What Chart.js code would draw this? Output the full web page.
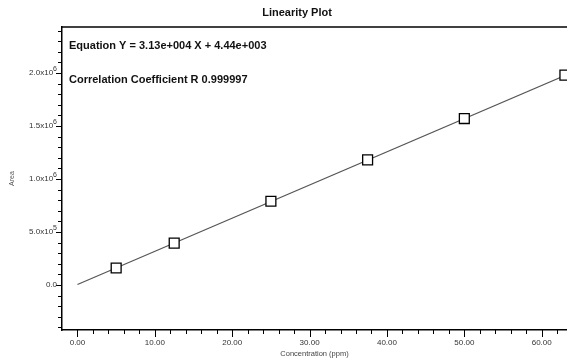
<!DOCTYPE html>
<html>
<head>
<meta charset="utf-8">
<script src="https://cdn.jsdelivr.net/npm/chart.js@4.4.1/dist/chart.umd.min.js"></script>
<style>
  html, body { margin: 0; padding: 0; background: #fff; }
</style>
</head>
<body>
<canvas id="linPlot" width="567" height="358"></canvas>
<script>
// calibration standards
const concentration = [5, 12.5, 25, 37.5, 50, 63];
const area = [1.6e5, 3.95e5, 7.9e5, 1.18e6, 1.57e6, 1.98e6];

// regression result
const slope = 3.13e4;
const intercept = 4.44e3;
const rValue = '0.999997';

// axis ticks
const xTickValues = [0, 10, 20, 30, 40, 50, 60];
const xTickLabels = ['0.00', '10.00', '20.00', '30.00', '40.00', '50.00', '60.00'];
const yTickValues = [0, 5e5, 1e6, 1.5e6, 2e6];
const yTickLabels = ['0.0', '5.0x10', '1.0x10', '1.5x10', '2.0x10'];
const yTickPowers = ['', '5', '6', '6', '6'];

const FONT = "'Liberation Sans', Arial, sans-serif";

const fitLine = [
  { x: 0, y: intercept },
  { x: 64, y: slope * 64 + intercept }
];
const points = concentration.map((c, i) => ({ x: c, y: area[i] }));

// frame top, minor/major tick marks, y labels with exponents, title and equation text
const decorations = {
  id: 'decorations',
  afterDraw(chart) {
    const { ctx, chartArea: a, scales: { x, y } } = chart;
    ctx.save();
    ctx.strokeStyle = '#000';
    ctx.lineWidth = 1.5;
    ctx.beginPath();
    ctx.moveTo(a.left, a.top);
    ctx.lineTo(a.right, a.top);
    ctx.stroke();

    ctx.lineWidth = 1;
    ctx.beginPath();
    for (let v = 0; v <= x.max; v += 2) {
      const px = Math.round(x.getPixelForValue(v)) + 0.5;
      const len = v % 10 === 0 ? 7 : 4;
      ctx.moveTo(px, a.bottom);
      ctx.lineTo(px, a.bottom + len);
    }
    for (let v = -4e5; v <= y.max; v += 1e5) {
      const py = Math.round(y.getPixelForValue(v)) + 0.5;
      const len = Math.abs(v % 5e5) < 1 ? 6 : 4;
      ctx.moveTo(a.left, py);
      ctx.lineTo(a.left - len, py);
    }
    ctx.stroke();

    ctx.fillStyle = '#333';
    ctx.textBaseline = 'middle';
    ctx.textAlign = 'right';
    yTickValues.forEach((v, i) => {
      const py = y.getPixelForValue(v);
      let right = a.left - 5;
      if (yTickPowers[i]) {
        ctx.font = '7px ' + FONT;
        ctx.fillText(yTickPowers[i], right, py - 4);
        right -= ctx.measureText(yTickPowers[i]).width;
      }
      ctx.font = '8px ' + FONT;
      ctx.fillText(yTickLabels[i], right, py);
    });

    ctx.fillStyle = '#111';
    ctx.font = 'bold 11px ' + FONT;
    ctx.textAlign = 'center';
    ctx.fillText('Linearity Plot', 297, 13);
    ctx.textAlign = 'left';
    ctx.fillText('Equation Y = 3.13e+004 X + 4.44e+003', 69, 46);
    ctx.fillText('Correlation Coefficient R ' + rValue, 69, 80);
    ctx.restore();
  }
};

new Chart(document.getElementById('linPlot'), {
  type: 'scatter',
  data: {
    datasets: [
      {
        label: 'Fit',
        data: fitLine,
        showLine: true,
        borderColor: '#555',
        borderWidth: 1.2,
        pointRadius: 0,
        order: 2
      },
      {
        label: 'Standards',
        data: points,
        pointStyle: 'rect',
        pointRadius: 7,
        pointBorderWidth: 1.3,
        pointBorderColor: '#000',
        pointBackgroundColor: '#fff',
        order: 1
      }
    ]
  },
  options: {
    responsive: false,
    animation: false,
    devicePixelRatio: 1,
    layout: { autoPadding: false, padding: { top: 27, right: 0, bottom: 0, left: 0 } },
    plugins: {
      legend: { display: false },
      tooltip: { enabled: false }
    },
    scales: {
      x: {
        type: 'linear',
        min: -2,
        max: 63.27,
        afterFit(scale) {
          scale.height = 28;
          scale.paddingLeft = 0;
          scale.paddingRight = 0;
        },
        afterBuildTicks(scale) { scale.ticks = xTickValues.map(v => ({ value: v })); },
        grid: { display: false, drawTicks: false },
        border: { display: true, color: '#000', width: 1.5 },
        ticks: {
          padding: 8,
          color: '#333',
          font: { family: FONT, size: 8 },
          maxRotation: 0,
          autoSkip: false,
          callback: (v, i) => xTickLabels[i]
        },
        title: {
          display: true,
          text: 'Concentration (ppm)',
          color: '#444',
          font: { family: FONT, size: 7.5 },
          padding: 0
        }
      },
      y: {
        type: 'linear',
        min: -4.25e5,
        max: 2.434e6,
        afterFit(scale) {
          scale.width = 62;
          scale.paddingTop = 0;
          scale.paddingBottom = 0;
        },
        afterBuildTicks(scale) { scale.ticks = yTickValues.map(v => ({ value: v })); },
        grid: { display: false, drawTicks: false },
        border: { display: true, color: '#000', width: 1.5 },
        ticks: { display: false },
        title: {
          display: true,
          text: 'Area',
          color: '#555',
          font: { family: FONT, size: 7 },
          padding: { top: 8, bottom: 0 }
        }
      }
    }
  },
  plugins: [decorations]
});
</script>
</body>
</html>
